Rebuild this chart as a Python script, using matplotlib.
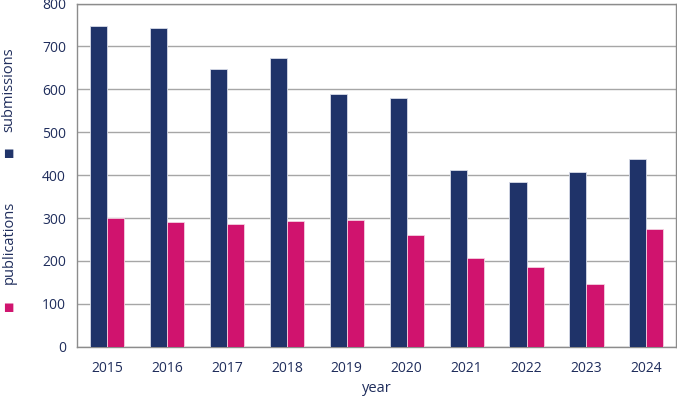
import numpy as np
import matplotlib.pyplot as plt

# data
years = ['2015', '2016', '2017', '2018', '2019', '2020', '2021', '2022', '2023', '2024']
submissions = [748, 743, 648, 674, 589, 580, 413, 383, 407, 437]
publications = [300, 290, 285, 292, 295, 260, 207, 185, 147, 274]

navy = '#1F3369'
pink = '#D0136E'
text_col = '#1F2D5C'
grid_col = '#A6A6A6'

plt.rcParams['font.family'] = ['Open Sans', 'DejaVu Sans']

fig = plt.figure(figsize=(6.77, 3.99), dpi=100)
ax = fig.add_axes([0.114, 0.131, 0.885, 0.86])

x = np.arange(len(years))
w = 0.285
ax.bar(x - w / 2, submissions, w, color=navy, edgecolor='#D8DCE8', linewidth=0.6, zorder=3)
ax.bar(x + w / 2, publications, w, color=pink, edgecolor='#F4D0E0', linewidth=0.6, zorder=3)

ax.set_xlim(-0.5, len(years) - 0.5)
ax.set_ylim(0, 800)
ax.set_yticks(range(0, 801, 100))
ax.set_xticks(x)
ax.set_xticklabels(years)
ax.yaxis.grid(True, color=grid_col, linewidth=1.0, zorder=0)
ax.set_axisbelow(True)
ax.tick_params(length=0, labelsize=10, colors=text_col, pad=8)
ax.tick_params(axis='x', pad=10)
for s in ax.spines.values():
    s.set_color('#8C8C8C')
    s.set_linewidth(1.0)

ax.set_xlabel('year', fontsize=10.5, color=text_col, labelpad=4)

# rotated legend-style y label
fig.text(0.013, 0.776, 'submissions', rotation=90, ha='center', va='center',
         fontsize=10.5, color=text_col)
fig.text(0.013, 0.619, '■', rotation=90, ha='center', va='center', fontsize=8, color=navy)
fig.text(0.013, 0.392, 'publications', rotation=90, ha='center', va='center',
         fontsize=10.5, color=text_col)
fig.text(0.013, 0.233, '■', rotation=90, ha='center', va='center', fontsize=8, color=pink)

fig.savefig('out.png', dpi=100)
